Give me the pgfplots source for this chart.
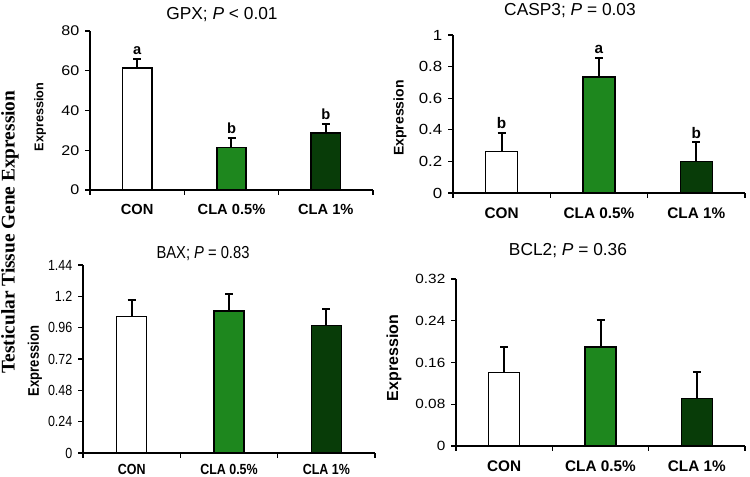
\documentclass[border=0pt]{standalone}
\usepackage{fontspec}
\setmainfont{Liberation Sans}
\newfontfamily\wide{Liberation Sans}[FakeStretch=1.15]
\newfontfamily\narrow{Liberation Sans}[FakeStretch=0.85]
\newfontfamily\serifb{Liberation Serif}
\usepackage{pgfplots}
\pgfplotsset{compat=1.18}
\definecolor{gmid}{RGB}{30,135,30}
\definecolor{gdark}{RGB}{8,60,8}
\tikzset{lt/.style={anchor=south, inner sep=0pt, yshift=3pt}}
\pgfplotsset{
  panel/.style={
    scale only axis, anchor=south west,
    axis lines=left, axis line style={-, line width=1pt, black},
    xmin=-0.5, xmax=2.5, ymin=0,
    xtick={-0.5,0.5,1.5,2.5}, xticklabels={,,,},
    extra x ticks={0,1,2},
    extra x tick labels={CON,CLA 0.5\%,CLA 1\%},
    extra x tick style={tick style={draw=none}},
    tick align=outside, major tick length=3.5pt,
    tick style={line width=1pt, black},
    scaled y ticks=false,
    /pgf/number format/fixed, /pgf/number format/precision=2,
    /pgf/number format/assume math mode=true,
    clip=false,
  },
  bx/.style={ybar, bar shift=0pt, draw=black, line width=1.1pt,
    error bars/y dir=plus, error bars/y explicit,
    error bars/error bar style={line width=1.5pt, black},
    error bars/error mark=-,
    error bars/error mark options={black, line width=1.5pt, mark size=3pt, rotate=90}},
}
\begin{document}
\begin{tikzpicture}
\useasboundingbox (0,0) rectangle (562.5pt,-357.75pt);

% Panel 1: GPX
\begin{axis}[panel, at={(67.5pt,-142.5pt)}, width=212.25pt, height=119.25pt,
  ymax=80, ytick={0,20,40,60,80}, bar width=0.31,
  yticklabel style={font=\wide\fontsize{10.5}{11}\selectfont, xshift=-1pt},
  xticklabel style={font=\bfseries\fontsize{11}{12}\selectfont, yshift=-4pt}]
\addplot[bx, fill=white] coordinates {(0,61.3) +- (0,4.7)};
\addplot[bx, fill=gmid] coordinates {(1,21.5) +- (0,4.6)};
\addplot[bx, fill=gdark] coordinates {(2,28.7) +- (0,4.5)};
\node[lt, font=\bfseries\fontsize{11}{12}\selectfont] at (axis cs:0,66) {a};
\node[lt, font=\bfseries\fontsize{11}{12}\selectfont] at (axis cs:1,26.1) {b};
\node[lt, font=\bfseries\fontsize{11}{12}\selectfont] at (axis cs:2,33.2) {b};
\end{axis}

% Panel 2: CASP3
\begin{axis}[panel, at={(339.75pt,-144.75pt)}, width=219pt, height=118.5pt,
  ymax=1, ytick={0,0.2,0.4,0.6,0.8,1}, bar width=0.33,
  yticklabel style={font=\wide\fontsize{11}{12}\selectfont, xshift=-1pt},
  xticklabel style={font=\bfseries\fontsize{11.5}{12}\selectfont, yshift=-4pt}]
\addplot[bx, fill=white] coordinates {(0,0.262) +- (0,0.12)};
\addplot[bx, fill=gmid] coordinates {(1,0.734) +- (0,0.12)};
\addplot[bx, fill=gdark] coordinates {(2,0.20) +- (0,0.12)};
\node[lt, font=\bfseries\fontsize{11.5}{12}\selectfont] at (axis cs:0,0.383) {b};
\node[lt, font=\bfseries\fontsize{11.5}{12}\selectfont] at (axis cs:1,0.854) {a};
\node[lt, font=\bfseries\fontsize{11.5}{12}\selectfont] at (axis cs:2,0.32) {b};
\end{axis}

% Panel 3: BAX
\begin{axis}[panel, at={(62.25pt,-339.75pt)}, width=219pt, height=141pt,
  ymax=1.44, ytick={0,0.24,0.48,0.72,0.96,1.2,1.44}, bar width=0.31,
  yticklabel style={font=\narrow\fontsize{11}{12}\selectfont, xshift=-1pt},
  xticklabel style={font=\narrow\bfseries\fontsize{11}{12}\selectfont, yshift=-1.5pt}]
\addplot[bx, fill=white] coordinates {(0,1.045) +- (0,0.127)};
\addplot[bx, fill=gmid] coordinates {(1,1.088) +- (0,0.128)};
\addplot[bx, fill=gdark] coordinates {(2,0.976) +- (0,0.127)};
\end{axis}

% Panel 4: BCL2
\begin{axis}[panel, at={(342pt,-334.5pt)}, width=216.75pt, height=125.25pt,
  ymax=0.32, ytick={0,0.08,0.16,0.24,0.32}, bar width=0.32,
  yticklabel style={font=\wide\fontsize{10}{11}\selectfont, xshift=-1pt},
  xticklabel style={font=\bfseries\fontsize{11.5}{12}\selectfont, yshift=-4pt}]
\addplot[bx, fill=white] coordinates {(0,0.141) +- (0,0.049)};
\addplot[bx, fill=gmid] coordinates {(1,0.19) +- (0,0.051)};
\addplot[bx, fill=gdark] coordinates {(2,0.091) +- (0,0.05)};
\end{axis}

% Titles
\node[font=\fontsize{13}{14}\selectfont] at (166.5pt,-11.25pt) {GPX; \textit{P} < 0.01};
\node[font=\fontsize{13}{14}\selectfont] at (427.5pt,-8.25pt) {CASP3; \textit{P} = 0.03};
\node[font=\narrow\fontsize{13}{14}\selectfont] at (152.25pt,-190.5pt) {BAX; \textit{P} = 0.83};
\node[font=\fontsize{13}{14}\selectfont] at (426pt,-188.25pt) {BCL2; \textit{P} = 0.36};

% Y labels
\node[rotate=90, font=\bfseries\fontsize{9.5}{10}\selectfont] at (30pt,-87.75pt) {Expression};
\node[rotate=90, font=\bfseries\fontsize{10.5}{11}\selectfont] at (300pt,-88.5pt) {Expression};
\node[rotate=90, font=\narrow\bfseries\fontsize{11.5}{12}\selectfont] at (26.25pt,-270.75pt) {Expression};
\node[rotate=90, font=\bfseries\fontsize{12}{13}\selectfont] at (295.5pt,-268.5pt) {Expression};

% Overall label
\node[rotate=90, font=\serifb\bfseries\fontsize{14.5}{15}\selectfont] at (7.5pt,-174pt) {Testicular Tissue Gene Expression};
\end{tikzpicture}
\end{document}
